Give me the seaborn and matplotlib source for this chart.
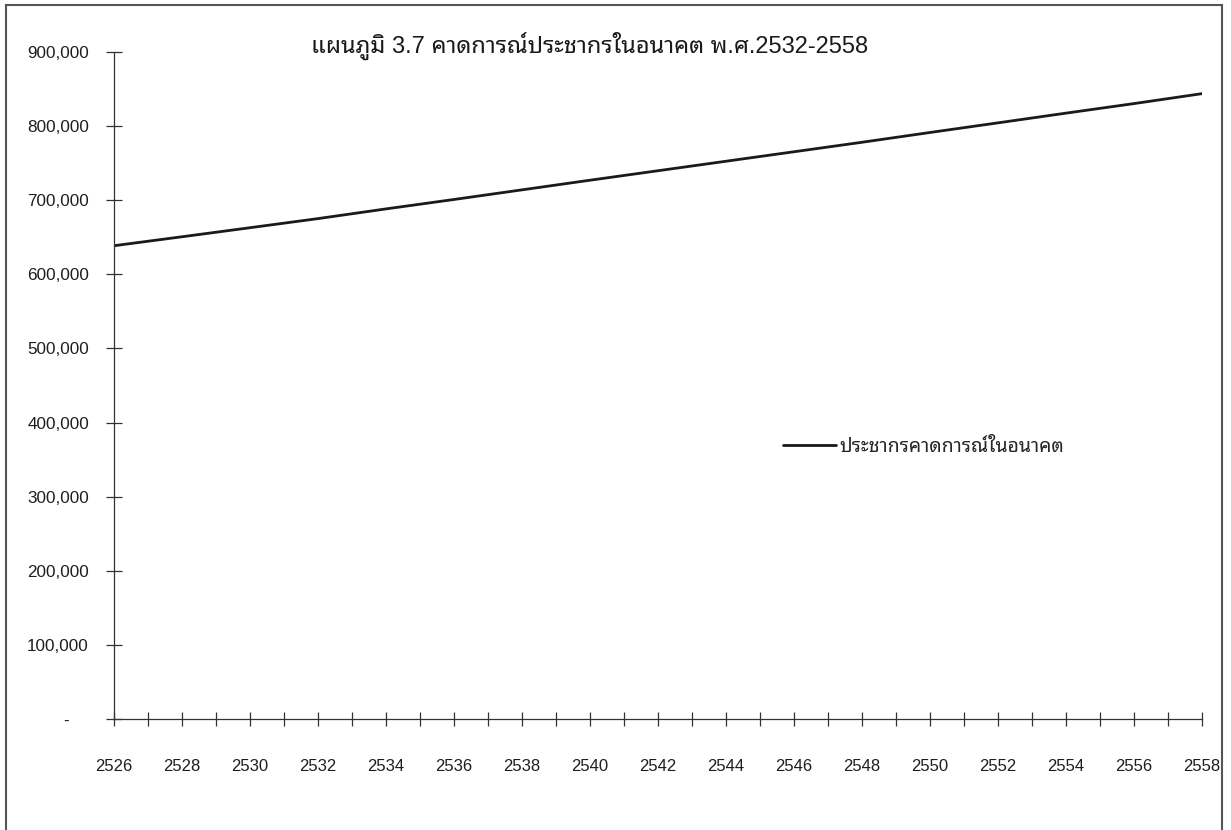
import pandas as pd
import matplotlib
matplotlib.use('Agg')
import matplotlib.pyplot as plt
import seaborn as sns
from matplotlib.ticker import MultipleLocator, FuncFormatter
from matplotlib.patches import Rectangle

# data (every 2 years)
years = [2526, 2528, 2530, 2532, 2534, 2536, 2538, 2540, 2542,
         2544, 2546, 2548, 2550, 2552, 2554, 2556, 2558]
population = [638600, 650700, 662900, 675200, 688300, 701000, 714000, 727000, 739800,
              752600, 765400, 778200, 791400, 804400, 817500, 830400, 843800]
series_label = 'ประชากรคาดการณ์ในอนาคต'
title_text = 'แผนภูมิ 3.7 คาดการณ์ประชากรในอนาคต พ.ศ.2532-2558'

#plot setting
sns.set_style('white')
plt.rcParams['font.family'] = ['Liberation Sans', 'Noto Sans Thai Looped', 'Noto Sans Thai', 'Sarabun']

df = pd.DataFrame({'year': years, 'pop': population})

fig = plt.figure(figsize=(12.31, 8.3), dpi=100)
ax = fig.add_axes([114/1231, 1 - 719/830, (1202 - 114)/1231, (719 - 52)/830])

sns.lineplot(data=df, x='year', y='pop', ax=ax, color='#1a1a1a', linewidth=2.0, label=series_label)

# axes layout
ax.set_xlim(2526, 2558)
ax.set_ylim(0, 900000)
ax.xaxis.set_major_locator(MultipleLocator(2))
ax.xaxis.set_minor_locator(MultipleLocator(1))
ax.yaxis.set_major_locator(MultipleLocator(100000))
ax.yaxis.set_major_formatter(FuncFormatter(lambda v, p: '-    ' if v == 0 else f'{int(v):,}'))
ax.tick_params(axis='x', which='both', direction='inout', length=10, width=0.9, color='#333333',
               pad=24, labelsize=12, labelcolor='#1e1e1e', bottom=True)
ax.tick_params(axis='y', direction='inout', length=12, width=0.9, color='#333333',
               pad=12, labelsize=12.3, labelcolor='#1e1e1e', left=True)
for s in ['top', 'right']:
    ax.spines[s].set_visible(False)
for s in ['left', 'bottom']:
    ax.spines[s].set_color('#333333')
    ax.spines[s].set_linewidth(0.9)
ax.set_xlabel('')
ax.set_ylabel('')
ax.grid(False)

# legend inside the plot
ax.legend(loc='center left', bbox_to_anchor=(783/1231, 1 - 447/830), bbox_transform=fig.transFigure,
          frameon=False, fontsize=14, handlelength=2.7, handletextpad=0.2, borderpad=0, borderaxespad=0)

# title
fig.text(590/1231, 1 - 46/830, title_text, ha='center', va='center', fontsize=17, color='#1a1a1a')

# page frame
fig.patches.append(Rectangle((6/1231, -0.02), (1222 - 6)/1231, 1.02 - 5/830, transform=fig.transFigure,
                             fill=False, edgecolor='#555555', linewidth=1.5))

fig.savefig('out.png', dpi=100)
